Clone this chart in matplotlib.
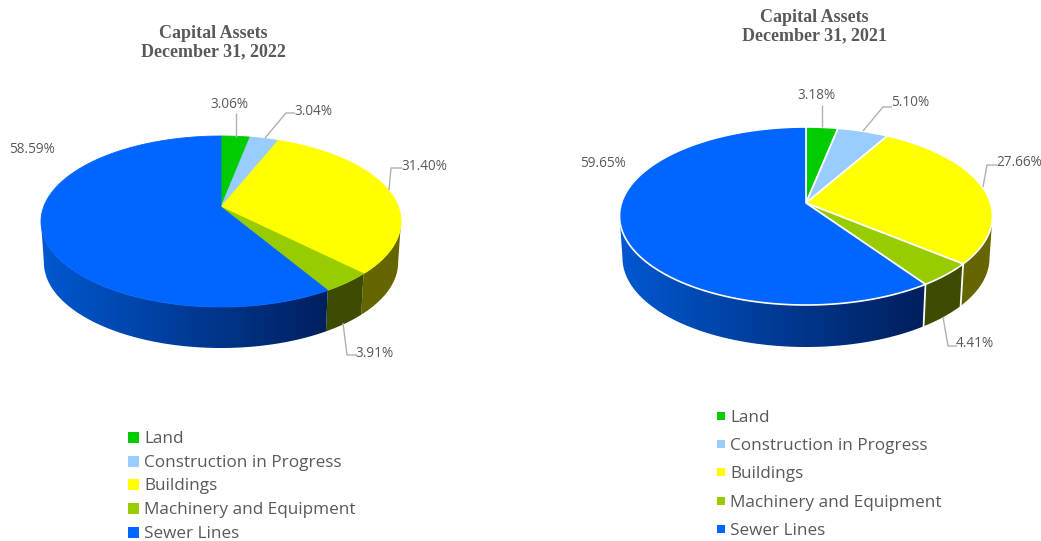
import numpy as np
import matplotlib
matplotlib.use("Agg")
import matplotlib.pyplot as plt
from matplotlib.patches import Polygon, Rectangle
from matplotlib.colors import LinearSegmentedColormap

categories = ["Land", "Construction in Progress", "Buildings", "Machinery and Equipment", "Sewer Lines"]
values_2022 = [3.06, 3.04, 31.40, 3.91, 58.59]
values_2021 = [3.18, 5.10, 27.66, 4.41, 59.65]
title_2022 = "Capital Assets\nDecember 31, 2022"
title_2021 = "Capital Assets\nDecember 31, 2021"

top_colors = ["#00CC00", "#99CCFF", "#FFFF00", "#99CC00", "#0066FF"]
side_light = ["#00A000", "#7AA3CC", "#6E6E00", "#3F5200", "#0058D0"]
side_dark = ["#004000", "#3D5266", "#666600", "#3C4C00", "#002060"]
TEXT = "#595959"
FONT = "Open Sans"

W, H = 1041, 541
fig = plt.figure(figsize=(W / 100, H / 100), dpi=100)
ax = fig.add_axes([0, 0, 1, 1])
ax.axis("off")
ramp = np.clip(np.linspace(0, 2 / 1.58, 320), 0, 1).reshape(1, -1)


def draw_pie(values, cx, cy, above, below, halfw, depth, white_edge,
             labels, leaders, title_xy, title, legend_x, legend_ys, sw, text_x, lfs):
    k = (below - above) / (below + above)
    B = above * (1 + k)
    R = halfw * np.sqrt(1 - k * k)

    def proj(theta):
        u, v = np.sin(theta), np.cos(theta)
        w = 1 + k * v
        return cx + R * u / w, cy - B * v / w

    edges = np.concatenate([[0], np.cumsum(values)]) / np.sum(values) * 2 * np.pi
    # the wall is visible between the two points where the outline is widest
    front_lo = np.arccos(-k)
    front_hi = 2 * np.pi - front_lo

    # extruded side: gradient image clipped to the outline of each slice's wall
    for i in range(len(values)):
        a, b = max(edges[i], front_lo), min(edges[i + 1], front_hi)
        if a >= b:
            continue
        th = np.linspace(a, b, max(int((b - a) * 180), 4) + 1)
        x, y = proj(th)
        xb = cx + (x - cx) * 0.984
        yb = y + depth
        pts = np.column_stack([np.r_[x, xb[::-1]], np.r_[y, yb[::-1]]])
        poly = Polygon(pts, closed=True, fc="none", ec="none", transform=ax.transData)
        ax.add_patch(poly)
        cmap = LinearSegmentedColormap.from_list("s", [side_light[i], side_dark[i]])
        im = ax.imshow(ramp, cmap=cmap, vmin=0, vmax=1, aspect="auto", zorder=2, interpolation="bilinear",
                       extent=(cx - halfw, cx + halfw, cy + below + depth + 5, cy - above))
        im.set_clip_path(poly)
        if white_edge and edges[i] > front_lo:
            ax.plot([x[0], xb[0]], [y[0], yb[0]], color="white", lw=1.3, zorder=3)

    # top face
    for i in range(len(values)):
        n = max(int((edges[i + 1] - edges[i]) * 180), 4)
        th = np.linspace(edges[i], edges[i + 1], n + 1)
        x, y = proj(th)
        pts = np.column_stack([np.r_[cx, x], np.r_[cy, y]])
        ax.add_patch(Polygon(pts, closed=True, fc=top_colors[i],
                             ec="white" if white_edge else top_colors[i],
                             lw=1.2 if white_edge else 0.6, joinstyle="round", zorder=4))

    for pts in leaders:
        p = np.array(pts)
        ax.plot(p[:, 0], p[:, 1], color="#B0B0B0", lw=1.0, zorder=5, solid_capstyle="butt")
    for v, (lx, ly) in zip(values, labels):
        ax.text(lx, ly + 1.5, f"{v:.2f}%", color=TEXT, family=FONT, fontsize=9.8,
                ha="center", va="center", zorder=6)
    ax.text(title_xy[0], title_xy[1], title, color=TEXT, family="Liberation Serif", fontweight="bold",
            fontsize=lfs, ha="center", va="center", linespacing=1.12, zorder=6)
    for name, c, ly in zip(categories, top_colors, legend_ys):
        ax.add_patch(Rectangle((legend_x, ly - sw / 2), sw, sw, fc=c, ec="none", zorder=6))
        ax.text(text_x, ly + 1.8, name, color=TEXT, family=FONT, fontsize=12.3,
                ha="left", va="center", zorder=6)


draw_pie(values_2022, 221, 207, 71, 100, 180, 41, False,
         [(229, 103), (313, 110), (424, 165), (375, 352), (32, 148)],
         [[(235.5, 113), (235.5, 137)],
          [(295, 113), (286, 113), (265, 138)],
          [(402, 168), (391, 168), (389, 190)],
          [(343, 323), (347, 355), (357, 355)]],
         (213, 42.5), title_2022, 128, [437, 461, 484, 508, 532], 11, 144, 13)

draw_pie(values_2021, 806, 203, 76, 102, 186.5, 42, True,
         [(817, 94), (910, 101), (1019, 161), (975, 342), (603, 162)],
         [[(822, 105), (822, 127)],
          [(892, 107), (883, 107), (863, 131)],
          [(997, 165), (987, 165), (983, 187)],
          [(943, 317), (948, 346), (957, 346)]],
         (814, 26.5), title_2021, 717, [416, 444, 472, 501, 529], 8, 730, 13)

ax.set_xlim(0, W)
ax.set_ylim(H, 0)
fig.savefig("out.png", dpi=100, facecolor="white")
